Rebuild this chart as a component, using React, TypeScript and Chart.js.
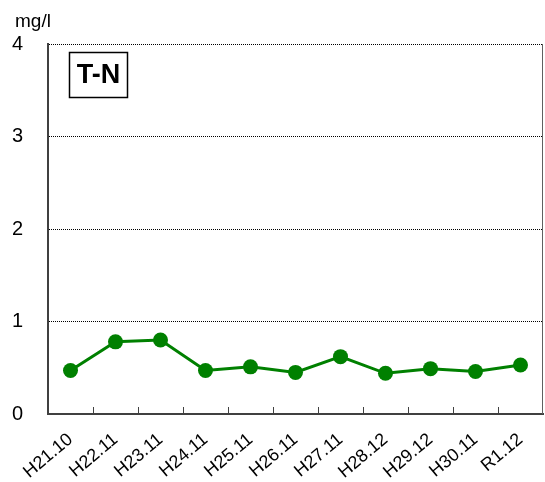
import React, { useEffect, useRef } from "react";
import { Chart, registerables } from "chart.js";

Chart.register(...registerables);

const categories = ["H21.10", "H22.11", "H23.11", "H24.11", "H25.11", "H26.11", "H27.11", "H28.12", "H29.12", "H30.11", "R1.12"];
const tnValues = [0.47, 0.78, 0.8, 0.47, 0.51, 0.45, 0.62, 0.44, 0.49, 0.46, 0.53];
const yTicks = [0, 1, 2, 3, 4];
const unitLabel = "mg/l";
const chartTitle = "T-N";

const FONT = "'Liberation Sans', Arial, sans-serif";

const decorPlugin = {
  id: "decor",
  afterDraw(chart: any) {
    const { ctx, chartArea } = chart;
    const x = chart.scales.x;
    ctx.save();
    ctx.strokeStyle = "#404040";
    ctx.lineWidth = 1;
    for (let i = 0; i < categories.length - 1; i++) {
      const px = Math.round((x.getPixelForValue(i) + x.getPixelForValue(i + 1)) / 2) + 0.5;
      ctx.beginPath();
      ctx.moveTo(px, chartArea.bottom);
      ctx.lineTo(px, chartArea.bottom - 7);
      ctx.stroke();
    }
    ctx.strokeStyle = "#606060";
    ctx.lineWidth = 1;
    ctx.beginPath();
    ctx.moveTo(chartArea.right - 0.5, chartArea.top);
    ctx.lineTo(chartArea.right - 0.5, chartArea.bottom);
    ctx.stroke();
    ctx.fillStyle = "#000";
    ctx.font = `19px ${FONT}`;
    ctx.textAlign = "left";
    ctx.textBaseline = "alphabetic";
    ctx.fillText(unitLabel, 15, 27);
    const bx = chartArea.left + 21.5;
    const by = chartArea.top + 8.5;
    const bw = 58;
    const bh = 45;
    ctx.fillStyle = "#fff";
    ctx.fillRect(bx, by, bw, bh);
    ctx.strokeStyle = "#000";
    ctx.lineWidth = 1.5;
    ctx.strokeRect(bx, by, bw, bh);
    ctx.fillStyle = "#000";
    ctx.font = `bold 27px ${FONT}`;
    ctx.textAlign = "center";
    ctx.textBaseline = "middle";
    ctx.fillText(chartTitle, bx + bw / 2, by + bh / 2 + 1);
    ctx.restore();
  },
};

export default function App() {
  const ref = useRef<HTMLCanvasElement | null>(null);
  useEffect(() => {
    if (!ref.current) return;
    const chart = new Chart(ref.current, {
      type: "line",
      data: {
        labels: categories,
        datasets: [
          {
            data: tnValues,
            borderColor: "#008000",
            backgroundColor: "#008000",
            borderWidth: 3,
            pointRadius: 7.5,
            pointHoverRadius: 7.5,
            pointBorderWidth: 0,
            pointBackgroundColor: "#008000",
            tension: 0,
          },
        ],
      },
      options: {
        responsive: false,
        animation: false,
        layout: { autoPadding: false, padding: { top: 44, right: 2, left: 0, bottom: 0 } },
        plugins: { legend: { display: false }, tooltip: { enabled: false } },
        scales: {
          x: {
            type: "category",
            offset: true,
            grid: { display: false, drawTicks: false },
            border: { display: true, color: "#404040", width: 2 },
            ticks: {
              color: "#000",
              font: { family: FONT, size: 18 },
              minRotation: 40,
              maxRotation: 40,
              padding: 15,
              autoSkip: false,
            },
            afterFit: (s: any) => {
              s.height = 68;
              s.paddingLeft = 0;
              s.paddingRight = 0;
            },
          },
          y: {
            type: "linear",
            min: 0,
            max: 4,
            afterBuildTicks: (s: any) => {
              s.ticks = yTicks.map((v) => ({ value: v }));
            },
            grid: {
              color: (c: any) => (c.tick && c.tick.value === 0 ? "rgba(0,0,0,0)" : "#000"),
              lineWidth: 1,
              drawTicks: false,
            },
            border: { display: true, color: "#404040", width: 2, dash: [1, 1] },
            ticks: {
              color: "#000",
              font: { family: FONT, size: 20 },
              padding: 25,
              stepSize: 1,
            },
            afterFit: (s: any) => {
              s.width = 48;
              s.paddingTop = 0;
              s.paddingBottom = 0;
            },
          },
        },
      },
      plugins: [decorPlugin],
    });
    return () => chart.destroy();
  }, []);
  return (
    <div style={{ position: "fixed", left: 0, top: 0, width: 545, height: 482, background: "#fff" }}>
      <canvas ref={ref} width={545} height={482} style={{ width: 545, height: 482 }} />
    </div>
  );
}
